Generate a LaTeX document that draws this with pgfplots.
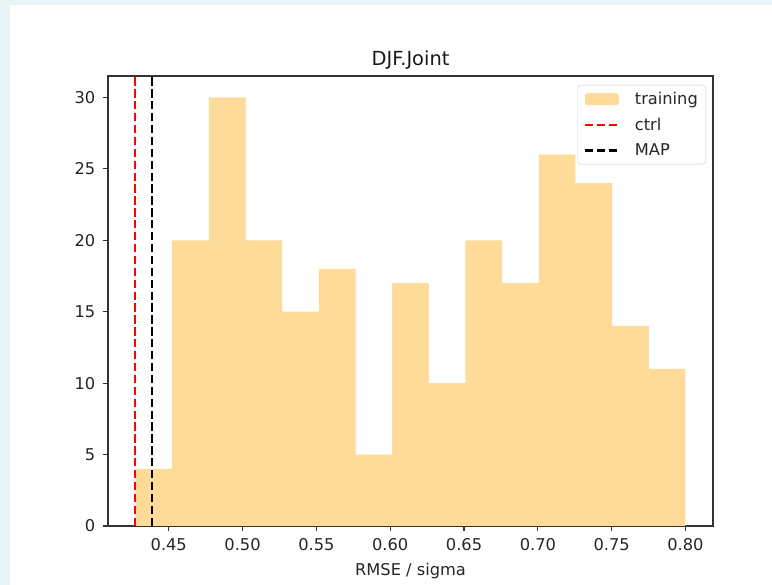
\documentclass[border=0pt]{standalone}
\usepackage{fontspec}
\setmainfont{DejaVu Sans}
\usepackage{pgfplots}
\pgfplotsset{compat=1.18}
\definecolor{bgblue}{HTML}{E8F3F5}
\definecolor{hist}{HTML}{FFDB99}
\definecolor{spine}{HTML}{333333}
\tikzset{vdash/.style={line width=2.2bp, dash pattern=on 8.3bp off 3.6bp}}

\begin{document}
\begin{tikzpicture}
  \useasboundingbox (0,0) rectangle (772bp,585bp);
  \fill[bgblue] (0,0) rectangle (772bp,585bp);
  \fill[white] (10bp,0) rectangle (772bp,580bp);
  \begin{axis}[
    at={(108bp,59bp)}, anchor=south west,
    scale only axis,
    width=605bp, height=450bp,
    xmin=0.40885, xmax=0.81865,
    ymin=0, ymax=31.5,
    xtick={0.45,0.50,...,0.80},
    ytick={0,5,...,30},
    /pgf/number format/assume math mode=true,
    tick align=outside,
    major tick length=5.25bp,
    tick style={spine, line width=1.2bp},
    axis line style={spine, line width=1.2bp},
    tick pos=left,
    ticklabel style={font=\fontsize{16.3}{18}\selectfont, text=black!85},
    xticklabel style={yshift=-4bp, /pgf/number format/.cd, fixed, fixed zerofill, precision=2},
    yticklabel style={xshift=-4bp},
    title={DJF.Joint},
    title style={font=\fontsize{19.5}{22}\selectfont, text=black!90, yshift=-3bp},
    xlabel={RMSE / sigma},
    xlabel style={font=\fontsize{16.3}{18}\selectfont, text=black!85, yshift=-5bp},
    legend style={at={(1,1)}, anchor=north east, xshift=-7bp, yshift=-9bp,
      draw=black!20, rounded corners=3bp, fill=white,
      font=\fontsize{16.3}{18}\selectfont, text=black!85,
      row sep=8bp, inner xsep=6bp, inner ysep=5bp,
      /tikz/every odd column/.append style={column sep=13bp}},
    legend cell align=left,
  ]
    \addplot[ybar interval, fill=hist, draw=none,
      legend image code/.code={\fill[hist] (0bp,-6bp) rectangle (34bp,6bp);}]
      coordinates {
      (0.42750,4) (0.45233,20) (0.47717,30) (0.50200,20) (0.52683,15)
      (0.55167,18) (0.57650,5) (0.60133,17) (0.62617,10) (0.65100,20)
      (0.67583,17) (0.70067,26) (0.72550,24) (0.75033,14) (0.77517,11)
      (0.80000,11)};
    \addlegendentry{training}
    \addplot[red, vdash,
      legend image code/.code={\draw[red, vdash] (0bp,0bp) -- (34bp,0bp);}]
      coordinates {(0.4274,0) (0.4274,31.5)};
    \addlegendentry{ctrl}
    \addplot[black, vdash,
      legend image code/.code={\draw[black, vdash] (0bp,0bp) -- (34bp,0bp);}]
      coordinates {(0.4387,0) (0.4387,31.5)};
    \addlegendentry{MAP}
  \end{axis}
\end{tikzpicture}
\end{document}
